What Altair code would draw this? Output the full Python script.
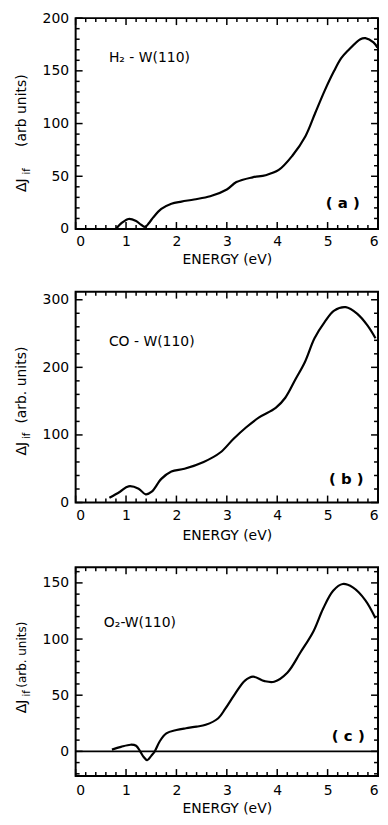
import altair as alt
import pandas as pd

# ---------------- data ----------------
# (a) H2 - W(110)
a_energy = [0.80, 0.92, 1.05, 1.20, 1.30, 1.38, 1.46, 1.54, 1.70, 1.90, 2.10, 2.35, 2.67,
            3.00, 3.19, 3.51, 3.77, 4.03, 4.30, 4.56, 4.75, 4.94, 5.13, 5.27, 5.40, 5.65,
            5.75, 5.91, 5.99]
a_value = [0, 6, 9.5, 7.5, 4, 2, 6, 11, 19, 24, 26, 28, 31,
           37.5, 44.5, 49, 51, 56, 69.5, 88, 109.5, 131, 150, 162, 169, 180,
           181, 177, 172]

# (b) CO - W(110)
b_energy = [0.67, 0.88, 1.05, 1.25, 1.39, 1.51, 1.70, 1.90, 2.16, 2.54, 2.87, 3.13, 3.38,
            3.64, 3.97, 4.16, 4.36, 4.55, 4.74, 4.94, 5.13, 5.36, 5.59, 5.79, 5.95]
b_value = [7, 16, 24, 20.5, 12, 16, 35, 46, 50, 60, 74, 94, 111,
           126, 140, 155, 182, 208, 243, 267, 284, 289, 279, 262, 243]

# (c) O2 - W(110)
c_energy = [0.72, 0.90, 1.09, 1.20, 1.28, 1.35, 1.42, 1.50, 1.57, 1.67, 1.80, 2.00, 2.19,
            2.40, 2.58, 2.83, 2.97, 3.16, 3.36, 3.52, 3.75, 3.94, 4.20, 4.46, 4.72, 4.91,
            5.11, 5.30, 5.50, 5.75, 5.95]
c_value = [1.5, 4, 5.9, 5, 0, -5, -7.9, -4, 0, 9, 16, 19, 20.6,
           22, 23.6, 29.5, 38, 51, 63, 66.5, 62.5, 62, 70, 88, 107, 127,
           143, 149, 146, 134.5, 118.5]

x_major = [0, 1, 2, 3, 4, 5, 6]
x_minor = [round(i * 0.2, 1) for i in range(31) if i % 5]

FONT = "DejaVu Sans"
W = 304
MAJ, MIN = 7, 4


def panel(energy, value, ydom, ymajor, ystep, h, name, name_pos, tag, tag_pos,
          ytitle, ypos, rest_size=14, lab_pad=6, title_pad=4, zero_line=False):
    df = pd.DataFrame({"E": energy, "V": value})
    xs = alt.Scale(domain=[0, 6], nice=False, zero=False)
    ys = alt.Scale(domain=ydom, nice=False, zero=False)
    lo = int(ydom[0] // ystep) * ystep
    y_minor = [v for v in range(lo, int(ydom[1]) + 1, ystep)
               if v not in ymajor and ydom[0] <= v <= ydom[1]]

    line = alt.Chart(df).mark_line(color="black", strokeWidth=2.2,
                                   interpolate="catmull-rom", clip=True).encode(
        x=alt.X("E:Q", scale=xs, title="ENERGY (eV)",
                axis=alt.Axis(values=x_major, ticks=False, tickSize=0, domain=False,
                              grid=False, labelPadding=lab_pad, labelFont=FONT,
                              labelFontSize=14, labelColor="black", titleFont=FONT,
                              titleFontSize=14, titleFontWeight="normal",
                              titleColor="black", titlePadding=title_pad)),
        y=alt.Y("V:Q", scale=ys, title="",
                axis=alt.Axis(values=ymajor, ticks=False, tickSize=0, domain=False,
                              grid=False, labelPadding=7, labelFont=FONT,
                              labelFontSize=14, labelColor="black")),
    )
    layers = [line]

    # inward ticks on all four sides, drawn through the scales
    def xticks(vals, size):
        d = pd.DataFrame({"E": vals})
        r = alt.Chart(d).mark_rule(color="black", strokeWidth=1.5)
        xe = alt.X("E:Q", scale=xs)
        return [r.encode(x=xe, y=alt.value(h), y2=alt.value(h - size)),
                r.encode(x=xe, y=alt.value(0), y2=alt.value(size))]

    def yticks(vals, size):
        d = pd.DataFrame({"V": vals})
        r = alt.Chart(d).mark_rule(color="black", strokeWidth=1.5)
        ye = alt.Y("V:Q", scale=ys)
        return [r.encode(y=ye, x=alt.value(0), x2=alt.value(size)),
                r.encode(y=ye, x=alt.value(W), x2=alt.value(W - size))]

    layers += xticks(x_major, MAJ) + xticks(x_minor, MIN)
    layers += yticks(ymajor, MAJ) + yticks(y_minor, MIN)

    if zero_line:
        layers.append(alt.Chart(pd.DataFrame({"V": [0]})).mark_rule(
            color="black", strokeWidth=1.6).encode(y=alt.Y("V:Q", scale=ys)))

    ann = pd.DataFrame({"E": [name_pos[0]], "V": [name_pos[1]], "t": [name]})
    layers.append(alt.Chart(ann).mark_text(font=FONT, fontSize=14, align="left",
                                           baseline="middle", color="black").encode(
        x=alt.X("E:Q", scale=xs), y=alt.Y("V:Q", scale=ys), text="t:N"))
    tg = pd.DataFrame({"E": [tag_pos[0]], "V": [tag_pos[1]], "t": [tag]})
    layers.append(alt.Chart(tg).mark_text(font=FONT, fontSize=15, fontWeight="bold",
                                          align="center", baseline="middle",
                                          color="black").encode(
        x=alt.X("E:Q", scale=xs), y=alt.Y("V:Q", scale=ys), text="t:N"))

    # composite y-axis title: "ΔJ" + subscript "if" + "(arb units)"
    (xm, y_dj, y_if, y_rest) = ypos
    for txt, dx, yy, fs in [("ΔJ", 0, y_dj, 14), ("if", 5, y_if, 10),
                            (ytitle, 0, y_rest, rest_size)]:
        layers.append(alt.Chart(pd.DataFrame({"t": [txt]})).mark_text(
            font=FONT, fontSize=fs, angle=270, align="center", baseline="middle",
            color="black").encode(x=alt.value(xm + dx), y=alt.value(yy), text="t:N"))

    return alt.layer(*layers).properties(width=W, height=h)


pa = panel(a_energy, a_value, [0, 200], [0, 50, 100, 150, 200], 10, 212,
           "H₂ - W(110)", (0.66, 162), "( a )", (5.3, 25),
           "(arb units)", (-54, 168, 154, 93))
pb = panel(b_energy, b_value, [0, 312], [0, 100, 200, 300], 20, 212,
           "CO - W(110)", (0.66, 238), "( b )", (5.37, 35),
           "(arb. units)", (-54, 158, 145, 94), title_pad=6)
pc = panel(c_energy, c_value, [-22, 164], [0, 50, 100, 150], 10, 210,
           "O₂-W(110)", (0.56, 114), "( c )", (5.41, 14),
           "(arb. units)", (-54, 140, 127, 88), rest_size=12, lab_pad=8, title_pad=4,
           zero_line=True)

chart = alt.vconcat(pa, pb, pc, spacing=22).properties(
    padding={"left": 6, "top": 0, "right": 0, "bottom": 0}
).configure_view(stroke="black", strokeWidth=2)

chart.save("out.html", embed_options={"renderer": "svg", "actions": False})
